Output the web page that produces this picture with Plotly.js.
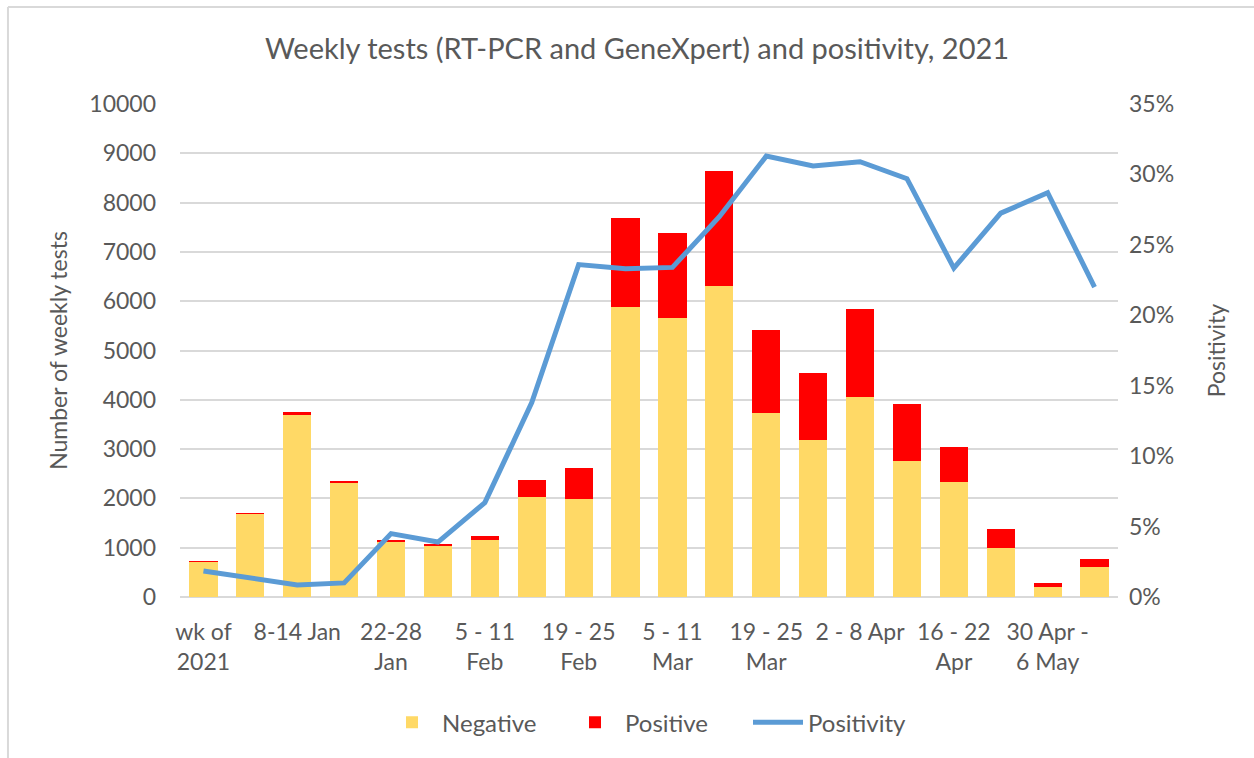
<!DOCTYPE html>
<html>
<head>
<meta charset="utf-8">
<script src="https://cdn.plot.ly/plotly-3.0.1.min.js"></script>
<style>html,body{margin:0;padding:0;background:#fff;}#chart{width:1254px;height:758px;}</style>
</head>
<body>
<div id="chart"></div>
<script>
const weeks = ["wk of 2021","1-7 Jan","8-14 Jan","15-21 Jan","22-28 Jan","29 Jan - 4 Feb","5 - 11 Feb","12 - 18 Feb","19 - 25 Feb","26 Feb - 4 Mar","5 - 11 Mar","12 - 18 Mar","19 - 25 Mar","26 Mar - 1 Apr","2 - 8 Apr","9 - 15 Apr","16 - 22 Apr","23 - 29 Apr","30 Apr - 6 May","7 - 13 May"];
const tickWeeks = ["wk of 2021","8-14 Jan","22-28 Jan","5 - 11 Feb","19 - 25 Feb","5 - 11 Mar","19 - 25 Mar","2 - 8 Apr","16 - 22 Apr","30 Apr - 6 May"];
const tickLabels = ["wk of<br>2021","8-14 Jan","22-28<br>Jan","5 - 11<br>Feb","19 - 25<br>Feb","5 - 11<br>Mar","19 - 25<br>Mar","2 - 8 Apr","16 - 22<br>Apr","30 Apr -<br>6 May"];
const negative = [700,1690,3700,2320,1110,1030,1160,2030,1980,5880,5660,6300,3730,3180,4050,2760,2330,1000,200,610];
const positive = [25,20,50,30,50,45,80,340,630,1800,1720,2350,1690,1370,1790,1160,710,380,80,160];
const positivity = [0.0185,0.0135,0.0085,0.010,0.045,0.039,0.067,0.138,0.236,0.233,0.234,0.270,0.313,0.306,0.309,0.297,0.2335,0.2725,0.287,0.220];

const txt = '#595959';
const fnt = 'Lato, "Open Sans", sans-serif';
const data = [
  {type:'bar', name:'Negative', x:weeks, y:negative, marker:{color:'#ffd966'}},
  {type:'bar', name:'Positive', x:weeks, y:positive, marker:{color:'#ff0000'}},
  {type:'scatter', mode:'lines', name:'Positivity', x:weeks, y:positivity, yaxis:'y2', line:{color:'#5b9bd5', width:5}}
];
const layout = {
  width:1254, height:758,
  margin:{l:180, r:136, t:104, b:161},
  paper_bgcolor:'#fff', plot_bgcolor:'#fff',
  font:{family:fnt, size:23, color:txt},
  barmode:'stack', bargap:0.4,
  title:{text:'Weekly tests (RT-PCR and GeneXpert) and positivity, 2021', x:0.508, xanchor:'center', y:0.935, yanchor:'middle', font:{size:29, color:txt}},
  xaxis:{type:'category', tickmode:'array', tickvals:tickWeeks, ticktext:tickLabels, showgrid:false, showline:false, ticks:'', tickangle:0, ticklen:0, ticklabelstandoff:19},
  yaxis:{range:[0,10000], dtick:1000, tickformat:'d', gridcolor:'#d9d9d9', gridwidth:2, zeroline:true, zerolinecolor:'#d9d9d9', zerolinewidth:2, ticks:'', ticklabelstandoff:23,
    title:{text:'Number of weekly tests', font:{size:23, color:txt}, standoff:15}},
  yaxis2:{overlaying:'y', side:'right', range:[0,0.35], dtick:0.05, tickformat:'.0%', showgrid:false, zeroline:false, ticks:'', ticklabelstandoff:10,
    title:{text:'Positivity', font:{size:23, color:txt}, standoff:35}},
  legend:{orientation:'h', x:0.508, xanchor:'center', y:-0.255, yanchor:'middle', font:{size:24, color:txt}, traceorder:'normal', itemwidth:50, entrywidth:118},
  showlegend:true,
  shapes:[
    {type:'line', xref:'paper', yref:'paper', x0:-0.1834, x1:-0.1834, y0:1.1968, y1:-0.33, line:{color:'#d9d9d9', width:2}},
    {type:'line', xref:'paper', yref:'paper', x0:-0.1834, x1:1.146, y0:1.1968, y1:1.1968, line:{color:'#d9d9d9', width:2}}
  ]
};
Plotly.newPlot('chart', data, layout, {displayModeBar:false, staticPlot:true});
</script>
</body>
</html>
